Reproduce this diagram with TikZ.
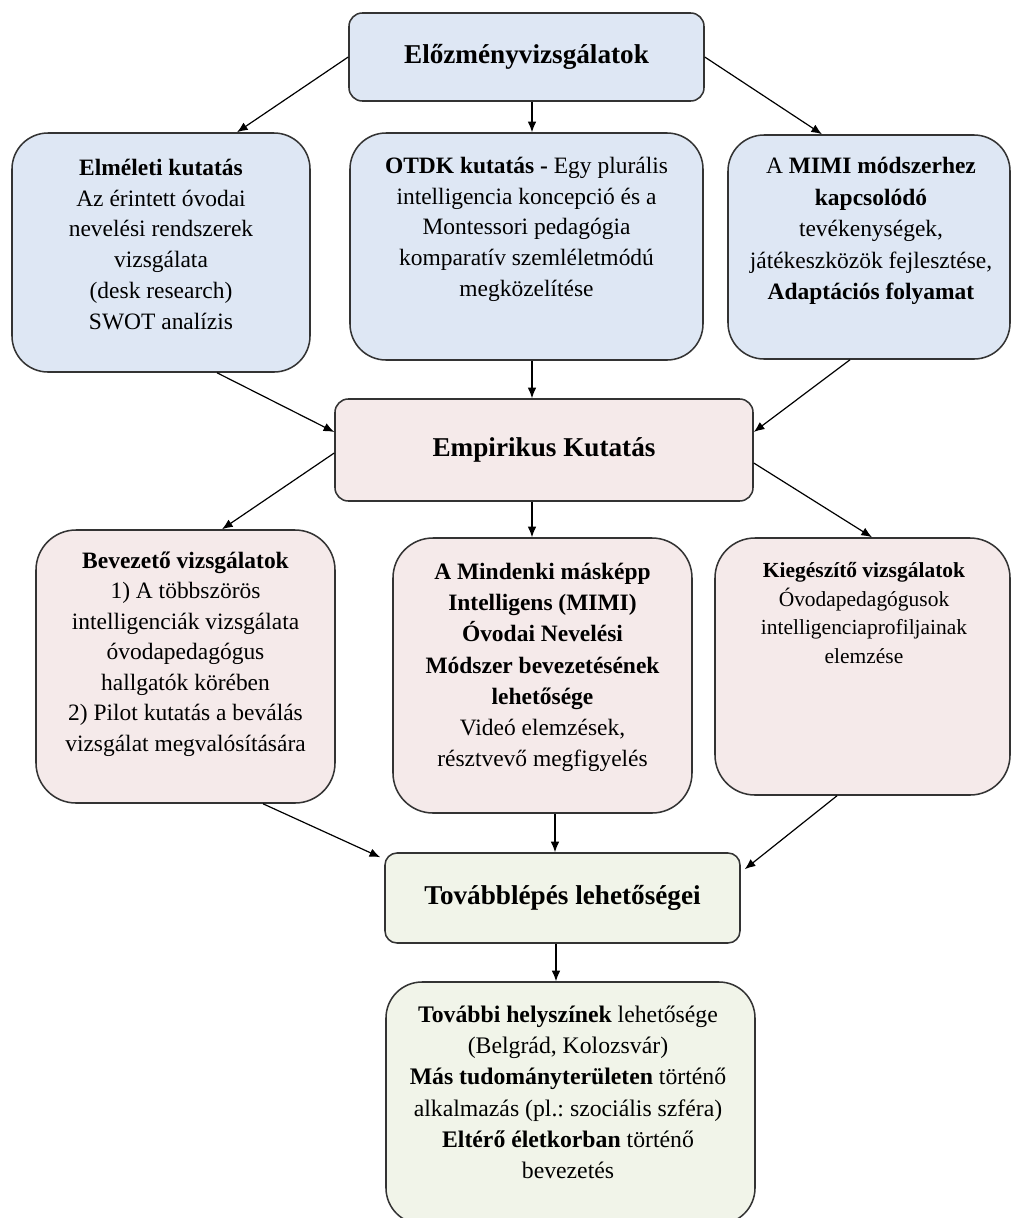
\documentclass[tikz,border=0pt]{standalone}
\usepackage{fontspec}
\setmainfont{Liberation Serif}
\usetikzlibrary{calc,arrows.meta}
\definecolor{bluef}{HTML}{DEE7F4}
\definecolor{pinkf}{HTML}{F5EAEA}
\definecolor{greenf}{HTML}{F1F4E9}
\definecolor{edgec}{HTML}{333333}
\frenchspacing
\begin{document}
\begin{tikzpicture}[x=0.75pt,y=-0.75pt,
  box/.style={draw=edgec, line width=1.15pt, inner sep=0pt},
  bigr/.style={rounded corners=27pt},
  smallr/.style={rounded corners=10pt},
  ttl/.style={font=\fontsize{20.4}{24}\selectfont\bfseries},
  txt/.style={align=center, inner sep=0pt, anchor=north, font=\fontsize{17.6}{23.1}\selectfont},
  arr/.style={-{Latex[length=8pt,width=6.5pt]}, line width=0.9pt}]
\useasboundingbox (0,0) rectangle (1012,1218);
\clip (0,0) rectangle (1012,1218);
\fill[white] (0,0) rectangle (1012,1218);

% boxes
\node[box, smallr, fill=bluef, minimum width=266.25pt, minimum height=66pt, ttl] (top) at (526.5,57) {Előzményvizsgálatok};
\node[box, bigr, fill=bluef, minimum width=223.5pt, minimum height=179.25pt] (L1) at (161,252.5) {};
\node[box, bigr, fill=bluef, minimum width=264.75pt, minimum height=170.25pt] (M1) at (526.5,246.5) {};
\node[box, bigr, fill=bluef, minimum width=211.5pt, minimum height=168pt] (R1) at (869,247) {};
\node[box, smallr, fill=pinkf, minimum width=313.5pt, minimum height=76.5pt, ttl] (Emp) at (544,450) {Empirikus Kutatás};
\node[box, bigr, rounded corners=30pt, fill=pinkf, minimum width=224.25pt, minimum height=204.75pt] (L2) at (185.5,666.5) {};
\node[box, bigr, rounded corners=30pt, fill=pinkf, minimum width=224.25pt, minimum height=206.25pt] (M2) at (542.5,675.5) {};
\node[box, bigr, rounded corners=30pt, fill=pinkf, minimum width=221.25pt, minimum height=192.75pt] (R2) at (862.5,666.5) {};
\node[box, rounded corners=9pt, fill=greenf, minimum width=266.25pt, minimum height=67.5pt, ttl] (Tov) at (562.5,898) {Továbblépés lehetőségei};
\node[box, bigr, fill=greenf, minimum width=276.75pt, minimum height=181.5pt] (B) at (570.5,1103) {};

% texts
\node[txt] (L1t) at (161,153.4) {\strut\textbf{Elméleti kutatás}\\Az érintett óvodai\\nevelési rendszerek\\vizsgálata\\(desk research)\\SWOT analízis};
\node[txt] (M1t) at (526.5,151.4) {\strut\textbf{OTDK kutatás -} Egy plurális\\intelligencia koncepció és a\\Montessori pedagógia\\komparatív szemléletmódú\\megközelítése};
\node[txt, font=\fontsize{17.6}{23.6}\selectfont] (R1t) at (871,151.4) {\strut A \textbf{MIMI módszerhez}\\\textbf{kapcsolódó}\\tevékenységek,\\játékeszközök fejlesztése,\\\textbf{Adaptációs folyamat}};
\node[txt, font=\fontsize{17.6}{22.9}\selectfont] (L2t) at (185.5,546.4) {\strut\textbf{Bevezető vizsgálatok}\\1) A többszörös\\intelligenciák vizsgálata\\óvodapedagógus\\hallgatók körében\\2) Pilot kutatás a beválás\\vizsgálat megvalósítására};
\node[txt, font=\fontsize{17.6}{23.4}\selectfont] (M2t) at (542.5,557.4) {\strut\textbf{A Mindenki másképp}\\\textbf{Intelligens (MIMI)}\\\textbf{Óvodai Nevelési}\\\textbf{Módszer bevezetésének}\\\textbf{lehetősége}\\Videó elemzések,\\résztvevő megfigyelés};
\node[txt, font=\fontsize{16.1}{21.5}\selectfont] (R2t) at (864,557.3) {\strut\textbf{Kiegészítő vizsgálatok}\\Óvodapedagógusok\\intelligenciaprofiljainak\\elemzése};
\node[txt, font=\fontsize{17.8}{23.5}\selectfont] (Bt) at (568,1000) {\strut\textbf{További helyszínek} lehetősége\\(Belgrád, Kolozsvár)\\\textbf{Más tudományterületen} történő\\alkalmazás (pl.: szociális szféra)\\\textbf{Eltérő életkorban} történő\\bevezetés};

% connectors
\draw[arr] (top.west) -- (L1.north -| 237,0);
\draw[arr] (top.south -| 532,0) -- (M1.north -| 532,0);
\draw[arr] (top.east) -- (R1.north -| 822,0);
\draw[arr] (L1.south -| 217,0) -- (Emp.west |- 0,432);
\draw[arr] (M1.south -| 532,0) -- (Emp.north -| 532,0);
\draw[arr] (R1.south -| 850,0) -- (Emp.east |- 0,432);
\draw[arr] (Emp.west |- 0,453) -- (L2.north -| 222,0);
\draw[arr] (Emp.south -| 532,0) -- (M2.north -| 532,0);
\draw[arr] (Emp.east |- 0,463) -- (R2.north -| 872,0);
\draw[arr] (L2.south -| 263,0) -- ($(Tov.north west)+(-4,5)$);
\draw[arr] (M2.south -| 555,0) -- (Tov.north -| 555,0);
\draw[arr] (R2.south -| 837,0) -- ($(Tov.north east)+(4,17)$);
\draw[arr] (Tov.south -| 556,0) -- (B.north -| 556,0);
\end{tikzpicture}
\end{document}
